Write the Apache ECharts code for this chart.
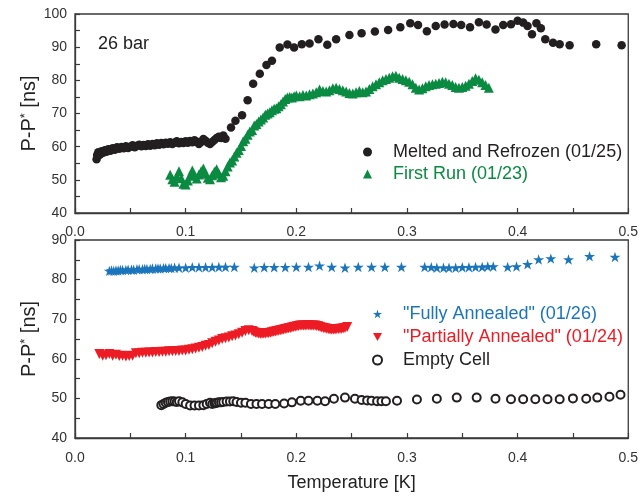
<!DOCTYPE html>
<html>
<head>
<meta charset="utf-8">
<script src="https://cdn.jsdelivr.net/npm/echarts@6/dist/echarts.min.js"></script>
<style>
  html, body { margin: 0; padding: 0; background: #fff; }
  #chart { width: 641px; height: 498px; }
</style>
</head>
<body>
<div id="chart"></div>
<script>
// Upper panel: 26 bar runs
const meltedRefrozen = [
  [0.0195,56.2],[0.020,57.5],[0.021,58.3],[0.0225,57.6],[0.024,58.6],[0.0255,58.2],[0.027,58.9],[0.0285,58.5],
  [0.030,59.2],[0.032,58.8],[0.034,59.5],[0.036,59.1],[0.038,59.8],[0.040,59.4],[0.042,59.9],[0.044,59.5],
  [0.046,60.1],[0.048,59.6],[0.050,60.0],[0.052,60.4],[0.054,59.8],[0.056,60.3],[0.058,60.6],[0.060,60.1],
  [0.062,60.5],[0.064,60.2],[0.066,60.7],[0.068,60.3],[0.070,60.8],[0.072,60.4],[0.074,61.0],[0.076,60.6],
  [0.078,61.1],[0.080,60.7],[0.082,61.2],[0.084,60.9],[0.086,61.3],[0.088,60.8],[0.090,61.2],[0.092,61.6],
  [0.094,61.0],[0.096,61.4],[0.098,61.1],[0.100,61.6],[0.102,61.2],[0.104,61.7],[0.106,61.3],[0.108,61.9],
  [0.110,61.5],[0.112,60.8],[0.114,61.4],[0.116,62.3],[0.118,61.8],[0.120,61.2],[0.122,60.8],[0.124,61.4],
  [0.126,62.0],[0.128,62.6],[0.130,63.0],[0.132,62.6],[0.134,63.4],[0.136,62.4],
  [0.141,65.8],[0.145,67.8],[0.151,69.5],[0.156,74.0],[0.161,79.0],[0.167,82.0],[0.173,84.6],[0.178,85.9],
  [0.185,89.9],[0.192,90.8],[0.198,89.9],[0.205,90.9],[0.212,91.1],[0.220,92.4],[0.228,90.7],[0.236,92.4],
  [0.248,93.7],[0.259,94.2],[0.271,94.7],[0.283,95.2],[0.294,96.0],[0.303,97.2],[0.310,96.7],[0.318,94.8],
  [0.326,96.4],[0.334,96.8],[0.342,97.0],[0.349,96.7],[0.357,96.0],[0.365,97.5],[0.372,96.8],[0.380,95.3],
  [0.387,96.7],[0.394,96.9],[0.400,98.0],[0.405,97.4],[0.409,96.4],[0.413,93.9],[0.417,97.2],[0.421,95.7],
  [0.425,92.4],[0.432,91.3],[0.438,90.9],[0.447,90.6],[0.471,90.9],[0.494,90.6]
];

const firstRun = [
  [0.086,51.5],[0.088,50.2],[0.090,49.4],[0.092,51.0],[0.094,52.6],[0.096,50.5],[0.098,48.8],[0.100,48.6],
  [0.102,49.8],[0.104,51.2],[0.106,52.8],[0.108,51.4],[0.110,50.4],[0.112,51.6],[0.114,52.6],[0.116,53.4],
  [0.118,51.8],[0.120,50.6],[0.122,50.2],[0.124,51.4],[0.126,52.4],[0.128,53.2],[0.130,51.8],[0.132,50.8],
  [0.134,51.2],[0.136,52.6],[0.138,54.0],[0.140,55.2],[0.142,55.8],[0.144,57.0],[0.146,58.2],[0.148,59.0],
  [0.150,60.2],[0.152,61.6],[0.154,62.4],[0.156,63.6],[0.158,64.6],[0.160,65.0],[0.162,66.4],[0.164,66.8],
  [0.166,67.6],[0.168,68.2],[0.170,68.8],[0.172,69.6],[0.174,70.0],[0.176,70.4],[0.178,71.0],[0.180,71.4],
  [0.182,71.6],[0.184,72.2],[0.186,72.8],[0.188,73.6],[0.190,74.4],[0.192,74.8],[0.194,75.0],[0.196,74.8],
  [0.198,75.2],[0.200,75.4],[0.203,75.2],[0.206,75.6],[0.209,75.4],[0.212,75.8],[0.215,76.0],[0.218,76.4],
  [0.221,77.2],[0.224,76.8],[0.227,76.6],[0.230,77.0],[0.233,77.6],[0.236,77.8],[0.239,77.4],[0.242,77.0],
  [0.245,76.6],[0.248,76.2],[0.251,76.0],[0.254,76.4],[0.257,76.8],[0.260,76.4],[0.263,76.6],[0.266,77.4],
  [0.269,78.2],[0.272,78.8],[0.275,79.4],[0.278,80.0],[0.281,80.4],[0.284,80.8],[0.287,81.2],[0.290,81.4],
  [0.293,80.8],[0.296,80.4],[0.299,80.0],[0.302,79.6],[0.305,78.8],[0.308,77.8],[0.311,77.2],[0.314,77.6],
  [0.317,78.2],[0.320,78.6],[0.323,78.8],[0.326,79.0],[0.329,79.2],[0.332,79.6],[0.335,79.4],[0.338,79.0],
  [0.341,78.6],[0.344,78.0],[0.347,77.8],[0.350,78.0],[0.353,78.4],[0.356,79.0],[0.359,79.8],[0.362,80.6],
  [0.365,80.2],[0.368,79.4],[0.371,78.6],[0.374,77.8]
];

// Lower panel
const fullyAnnealed = [
  [0.031,82.2],[0.033,82.3],[0.035,82.2],[0.037,82.3],[0.039,82.3],[0.041,82.4],[0.043,82.4],[0.046,82.4],
  [0.048,82.5],[0.051,82.5],[0.053,82.5],[0.056,82.6],[0.058,82.6],[0.061,82.6],[0.063,82.7],[0.065,82.7],
  [0.068,82.7],[0.070,82.8],[0.073,82.8],[0.075,82.8],[0.077,82.8],[0.080,82.9],[0.082,82.9],[0.085,82.9],
  [0.087,82.9],[0.090,83.0],[0.094,83.0],[0.100,83.0],[0.106,83.1],[0.112,83.1],[0.118,83.1],[0.124,83.1],
  [0.130,83.2],[0.136,83.2],[0.144,83.2],
  [0.162,83.0],[0.171,83.1],[0.180,83.1],[0.190,83.1],[0.200,83.2],[0.211,83.2],[0.221,83.5],[0.232,83.2],
  [0.244,83.0],[0.256,83.2],[0.268,83.2],[0.280,83.2],[0.295,83.2],
  [0.316,83.2],[0.322,83.1],[0.327,83.0],[0.333,83.0],[0.338,83.0],[0.344,83.0],[0.350,83.1],[0.356,83.1],
  [0.362,83.2],[0.368,83.2],[0.373,83.3],[0.378,83.3],[0.391,83.2],[0.399,83.3],[0.409,83.9],[0.419,85.1],
  [0.430,85.3],[0.446,85.1],[0.465,85.9],[0.488,85.7]
];

const partiallyAnnealed = [
  [0.022,61.2],[0.025,60.8],[0.028,60.9],[0.031,61.2],[0.034,60.8],[0.037,61.0],[0.040,60.7],[0.043,60.8],
  [0.046,60.6],[0.049,60.7],[0.052,60.8],[0.055,61.4],[0.058,61.4],[0.061,61.5],[0.064,61.5],[0.067,61.6],
  [0.070,61.6],[0.073,61.7],[0.076,61.7],[0.079,61.8],[0.082,61.8],[0.085,61.9],[0.088,61.9],[0.091,62.0],
  [0.094,62.0],[0.097,62.1],[0.100,62.1],[0.103,62.3],[0.106,62.4],[0.109,62.6],[0.112,62.8],[0.115,63.0],
  [0.118,63.3],[0.121,63.5],[0.124,63.9],[0.127,64.3],[0.130,64.6],[0.133,65.0],[0.136,65.2],[0.139,65.4],
  [0.142,65.7],[0.145,65.9],[0.148,66.2],[0.151,66.6],[0.154,67.0],[0.157,67.2],[0.160,67.0],[0.1615,66.8],
  [0.163,66.6],[0.1645,66.5],[0.166,66.4],[0.1675,66.3],[0.169,66.3],[0.1705,66.4],[0.172,66.4],[0.1735,66.5],
  [0.175,66.5],[0.1765,66.6],[0.178,66.7],[0.1795,66.8],[0.181,66.9],[0.1825,67.0],[0.184,67.1],[0.1855,67.2],
  [0.187,67.3],[0.1885,67.4],[0.190,67.5],[0.1915,67.6],[0.193,67.7],[0.1945,67.8],[0.196,67.9],[0.1975,68.0],
  [0.199,68.1],[0.2005,68.2],[0.202,68.3],[0.2035,68.4],[0.205,68.4],[0.2065,68.4],[0.208,68.4],[0.2095,68.5],
  [0.211,68.5],[0.2125,68.4],[0.214,68.4],[0.2155,68.4],[0.217,68.4],[0.2185,68.3],[0.220,68.2],[0.2215,68.0],
  [0.223,67.9],[0.2245,67.8],[0.226,67.7],[0.2275,67.6],[0.229,67.5],[0.2305,67.4],[0.232,67.4],[0.2335,67.4],
  [0.235,67.4],[0.2365,67.5],[0.238,67.5],[0.2395,67.6],[0.241,67.6],[0.2425,67.7],[0.244,67.8],[0.246,68.0]
];

const emptyCell = [
  [0.078,48.3],[0.080,48.6],[0.082,48.9],[0.084,49.1],[0.086,49.2],[0.088,49.3],[0.090,49.2],[0.092,49.1],
  [0.094,49.3],[0.097,49.0],[0.100,48.6],[0.104,48.2],[0.108,48.2],[0.112,48.2],[0.116,48.3],[0.119,48.6],
  [0.122,48.9],[0.124,48.6],[0.126,48.8],[0.127,48.8],[0.128,48.9],[0.130,49.0],[0.132,49.0],[0.134,49.1],
  [0.137,49.2],[0.140,49.2],[0.143,49.3],[0.146,49.1],[0.150,48.9],[0.154,48.9],[0.159,48.6],[0.164,48.6],
  [0.169,48.6],[0.175,48.6],[0.181,48.6],[0.189,48.7],[0.196,49.0],[0.204,49.4],[0.211,49.4],[0.219,49.4],
  [0.226,49.3],[0.234,49.9],[0.244,50.2],[0.253,49.9],[0.259,49.6],[0.264,49.5],[0.268,49.4],[0.273,49.3],
  [0.277,49.3],[0.281,49.3],[0.291,49.4],[0.309,49.7],[0.327,49.9],[0.345,50.2],[0.363,50.2],[0.380,49.9],
  [0.394,49.8],[0.405,49.8],[0.416,49.8],[0.427,49.8],[0.438,49.8],[0.450,50.0],[0.462,49.9],[0.472,50.2],
  [0.483,50.4],[0.493,50.9]
];

const seriesNames = {
  melted: 'Melted and Refrozen (01/25)',
  first: 'First Run (01/23)',
  fully: '"Fully Annealed" (01/26)',
  partial: '"Partially Annealed" (01/24)',
  empty: 'Empty Cell'
};

const colors = {
  melted: '#231f20',
  first: '#0b8a42',
  fully: '#1b75bb',
  partial: '#ed1c24',
  empty: '#231f20'
};

// Marker shapes not built into ECharts
const STAR = 'path://M50,0L61.2,34.5L97.6,34.5L68.2,55.9L79.4,90.5L50,69.1L20.6,90.5L31.8,55.9L2.4,34.5L38.8,34.5Z';
const DOWN_TRIANGLE = 'path://M0,0L10,0L5,9Z';

const FONT = '"Liberation Sans", Arial, sans-serif';
const AXIS_COLOR = '#3a3a3a';

function xAxisFor(gridIndex, margin, name) {
  return {
    gridIndex: gridIndex,
    type: 'value',
    min: 0, max: 0.5, interval: 0.1,
    axisLine: { show: true, onZero: false, lineStyle: { color: AXIS_COLOR, width: 1.3 } },
    axisTick: { show: true, inside: true, length: 5, lineStyle: { color: AXIS_COLOR, width: 1.2 } },
    minorTick: { show: true, splitNumber: 2, length: 5, lineStyle: { color: AXIS_COLOR, width: 1.2 } },
    splitLine: { show: false },
    axisLabel: { margin: margin, fontSize: 14, color: '#333', fontFamily: FONT,
                 formatter: v => v.toFixed(1) },
    name: name || '',
    nameLocation: 'middle',
    nameGap: 36,
    nameMoveOverlap: false,
    nameTextStyle: { fontSize: 18, color: '#222', fontFamily: FONT }
  };
}

function yAxisFor(gridIndex, min, max) {
  return {
    gridIndex: gridIndex,
    type: 'value',
    min: min, max: max, interval: 10,
    axisLine: { show: true, onZero: false, lineStyle: { color: AXIS_COLOR, width: 1.3 } },
    axisTick: { show: true, inside: true, length: 5, lineStyle: { color: AXIS_COLOR, width: 1.2 } },
    minorTick: { show: true, splitNumber: 2, length: 5, lineStyle: { color: AXIS_COLOR, width: 1.2 } },
    splitLine: { show: false },
    axisLabel: { margin: 8, fontSize: 14, color: '#333', fontFamily: FONT },
    name: 'P-P{s|*} [ns]',
    nameLocation: 'middle',
    nameRotate: 90,
    nameGap: 36,
    nameMoveOverlap: false,
    nameTextStyle: {
      fontSize: 20, color: '#222', fontFamily: FONT,
      rich: { s: { fontSize: 13, fontFamily: FONT, color: '#222', verticalAlign: 'top', padding: [0, 0, 7, 0] } }
    }
  };
}

function legendFor(keys, left, top, gap) {
  return {
    orient: 'vertical',
    left: left, top: top,
    itemWidth: 9, itemHeight: 9, itemGap: gap,
    selectedMode: false,
    data: keys.map(k => ({
      name: seriesNames[k],
      textStyle: { color: colors[k] }
    })),
    textStyle: { fontSize: 18, fontFamily: FONT, padding: [0, 0, 0, 16] }
  };
}

const chart = echarts.init(document.getElementById('chart'), null, { renderer: 'canvas' });

chart.setOption({
  animation: false,
  backgroundColor: '#fff',
  grid: [
    { left: 75, top: 14, width: 556, height: 199, show: true, borderColor: AXIS_COLOR, borderWidth: 1.3, backgroundColor: 'transparent' },
    { left: 75, top: 240, width: 556, height: 198, show: true, borderColor: AXIS_COLOR, borderWidth: 1.3, backgroundColor: 'transparent' }
  ],
  xAxis: [xAxisFor(0, 12), xAxisFor(1, 13, 'Temperature [K]')],
  yAxis: [yAxisFor(0, 40, 100), yAxisFor(1, 40, 90)],
  legend: [
    legendFor(['melted', 'first'], 358, 138, 4),
    legendFor(['fully', 'partial', 'empty'], 367, 300, 5)
  ],
  graphic: [{
    type: 'text', left: 98, top: 35,
    style: { text: '26 bar', fontSize: 18, fontFamily: FONT, fill: '#222' }
  }],
  series: [
    { name: seriesNames.melted, type: 'scatter', xAxisIndex: 0, yAxisIndex: 0,
      data: meltedRefrozen, symbol: 'circle', symbolSize: 8.5,
      itemStyle: { color: colors.melted, opacity: 1 } },
    { name: seriesNames.first, type: 'scatter', xAxisIndex: 0, yAxisIndex: 0,
      data: firstRun, symbol: 'triangle', symbolSize: 10,
      itemStyle: { color: colors.first, opacity: 1 } },
    { name: seriesNames.fully, type: 'scatter', xAxisIndex: 1, yAxisIndex: 1,
      data: fullyAnnealed, symbol: STAR, symbolKeepAspect: true, symbolSize: 11,
      itemStyle: { color: colors.fully, opacity: 1 } },
    { name: seriesNames.partial, type: 'scatter', xAxisIndex: 1, yAxisIndex: 1,
      data: partiallyAnnealed, symbol: DOWN_TRIANGLE, symbolSize: 10,
      itemStyle: { color: colors.partial, opacity: 1 } },
    { name: seriesNames.empty, type: 'scatter', xAxisIndex: 1, yAxisIndex: 1,
      data: emptyCell, symbol: 'emptyCircle', symbolSize: 8,
      itemStyle: { color: colors.empty, borderWidth: 0.9, opacity: 1 } }
  ]
});
</script>
</body>
</html>
